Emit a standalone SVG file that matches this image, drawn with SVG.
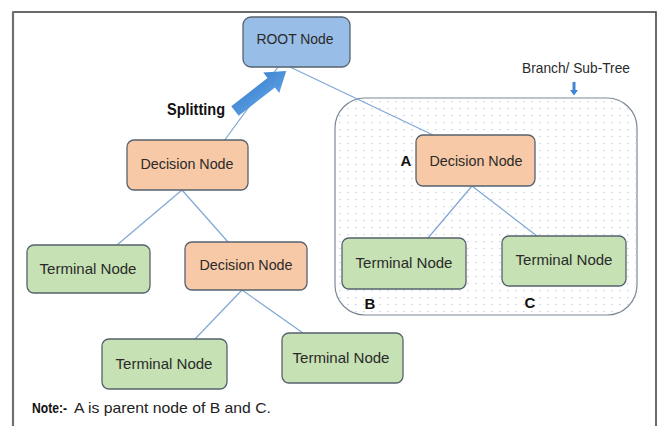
<svg xmlns="http://www.w3.org/2000/svg" width="660" height="426" viewBox="0 0 660 426">
  <defs>
    <style>
      .node { stroke: #56616e; stroke-width: 1.3; }
      .root { fill: #98bde6; }
      .dec { fill: #f8c9a6; }
      .term { fill: #c6e1b3; }
      .lbl { font-family: "Liberation Sans", Arial, sans-serif; font-size: 15px; fill: #2a2a2a; text-anchor: middle; }
      .bold { font-family: "Liberation Sans", Arial, sans-serif; font-weight: bold; fill: #111; }
      .conn line { stroke: #7fa7d6; stroke-width: 1.2; }
    </style>
    <pattern id="dots" width="8" height="7" patternUnits="userSpaceOnUse">
      <rect x="3" y="3" width="1.6" height="1.2" fill="#cdd5df"/>
    </pattern>
    <linearGradient id="splitFill" x1="0" y1="0" x2="0" y2="1">
      <stop offset="0" stop-color="#3f86d3"/>
      <stop offset="1" stop-color="#5b9de0"/>
    </linearGradient>
  </defs>

  <!-- page background and frame -->
  <rect x="0" y="0" width="660" height="426" fill="#ffffff"/>
  <path d="M13 430 V12 H656 V430" fill="none" stroke="#3a3a3a" stroke-width="1.5"/>
  <line x1="13" y1="12" x2="13" y2="430" stroke="#707070" stroke-width="2.2"/>

  <!-- sub-tree region -->
  <g id="branch">
    <rect x="335" y="98" width="302" height="217" rx="30" ry="30" fill="#ffffff" stroke="#7d8896" stroke-width="1.2"/>
    <rect x="335" y="98" width="302" height="217" rx="30" ry="30" fill="url(#dots)"/>
    <text x="576" y="73" class="lbl" textLength="108" lengthAdjust="spacingAndGlyphs">Branch/ Sub-Tree</text>
    <path d="M572.5 82 h3 v8 h2.5 l-4 5.5 l-4 -5.5 h2.5 z" fill="#3f86d3"/>
  </g>

  <!-- connectors -->
  <g id="connectors" class="conn">
    <line x1="278" y1="67" x2="224" y2="141"/>
    <line x1="290" y1="67" x2="433" y2="135"/>
    <line x1="182" y1="190" x2="117" y2="245"/>
    <line x1="182" y1="190" x2="228" y2="242"/>
    <line x1="242" y1="290" x2="195" y2="339"/>
    <line x1="242" y1="290" x2="303" y2="333"/>
    <line x1="472" y1="186" x2="428" y2="238"/>
    <line x1="472" y1="186" x2="537" y2="236"/>
  </g>

  <!-- splitting arrow -->
  <g id="splitting">
    <polygon points="0,-6 46,-6 46,-13 65,0 46,13 46,6 0,6" fill="url(#splitFill)" transform="translate(235,111) rotate(-38)"/>
    <text x="196" y="115" class="bold" font-size="17" text-anchor="middle" textLength="58" lengthAdjust="spacingAndGlyphs">Splitting</text>
  </g>

  <g id="root">
    <rect x="243" y="17" width="107" height="50" rx="8" class="node root"/>
    <text x="295" y="44" class="lbl" textLength="77" lengthAdjust="spacingAndGlyphs">ROOT Node</text>
  </g>

  <g id="decision1">
    <rect x="127" y="140" width="121" height="50" rx="7" class="node dec"/>
    <text x="187" y="169" class="lbl" textLength="93" lengthAdjust="spacingAndGlyphs">Decision Node</text>
  </g>

  <g id="terminal1">
    <rect x="27" y="245" width="123" height="48" rx="7" class="node term"/>
    <text x="88" y="274" class="lbl" textLength="97" lengthAdjust="spacingAndGlyphs">Terminal Node</text>
  </g>

  <g id="decision2">
    <rect x="185" y="242" width="122" height="48" rx="7" class="node dec"/>
    <text x="246" y="270" class="lbl" textLength="93" lengthAdjust="spacingAndGlyphs">Decision Node</text>
  </g>

  <g id="terminal2">
    <rect x="102" y="339" width="125" height="50" rx="7" class="node term"/>
    <text x="164" y="369" class="lbl" textLength="97" lengthAdjust="spacingAndGlyphs">Terminal Node</text>
  </g>

  <g id="terminal3">
    <rect x="282" y="333" width="121" height="50" rx="7" class="node term"/>
    <text x="341" y="363" class="lbl" textLength="97" lengthAdjust="spacingAndGlyphs">Terminal Node</text>
  </g>

  <g id="decisionA">
    <rect x="416" y="135" width="119" height="51" rx="7" class="node dec"/>
    <text x="476" y="166" class="lbl" textLength="93" lengthAdjust="spacingAndGlyphs">Decision Node</text>
    <text x="406" y="166" class="bold" font-size="15" text-anchor="middle">A</text>
  </g>

  <g id="terminalB">
    <rect x="342" y="238" width="124" height="51" rx="7" class="node term"/>
    <text x="404" y="268" class="lbl" textLength="97" lengthAdjust="spacingAndGlyphs">Terminal Node</text>
    <text x="370" y="309" class="bold" font-size="15" text-anchor="middle">B</text>
  </g>

  <g id="terminalC">
    <rect x="502" y="236" width="124" height="50" rx="7" class="node term"/>
    <text x="564" y="265" class="lbl" textLength="97" lengthAdjust="spacingAndGlyphs">Terminal Node</text>
    <text x="530" y="308" class="bold" font-size="15" text-anchor="middle">C</text>
  </g>

  <!-- footnote -->
  <g id="note">
    <text x="32" y="413" class="bold" font-size="15" textLength="35" lengthAdjust="spacingAndGlyphs">Note:-</text>
    <text x="74" y="413" font-family="Liberation Sans, Arial, sans-serif" font-size="15" fill="#222" textLength="197" lengthAdjust="spacingAndGlyphs">A is parent node of B and C.</text>
  </g>
</svg>
